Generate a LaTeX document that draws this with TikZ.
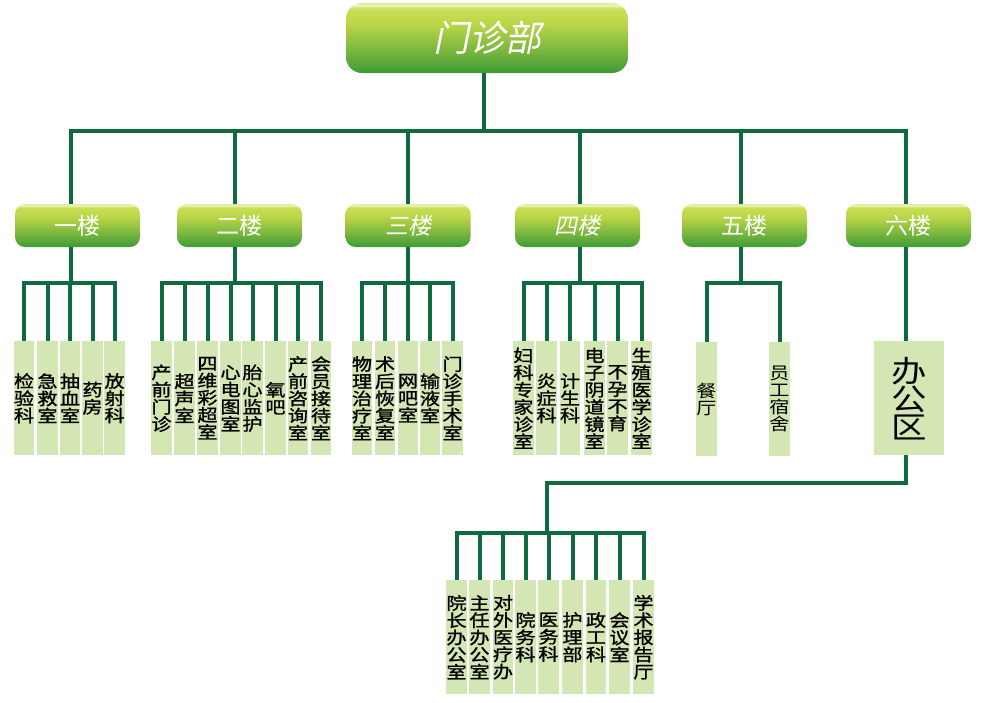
\documentclass[tikz,border=0pt]{standalone}
\usepackage{fontspec}
\newfontfamily\cjk{Noto Sans CJK SC}
\newfontfamily\cjkw[FakeStretch=1.18]{Noto Sans CJK SC}
\newfontfamily\cjkm[FakeStretch=1.18,FakeBold=1.2]{Noto Sans CJK SC}
\newfontfamily\cjksl[FakeSlant=0.2]{Noto Sans CJK SC}
\definecolor{lineg}{HTML}{0E6A3F}
\definecolor{leafg}{HTML}{D3E6B4}
\definecolor{gbot}{HTML}{3E9B38}
\definecolor{gmid}{HTML}{7DB83F}
\definecolor{gtop}{HTML}{BAD548}
\definecolor{gtop2}{HTML}{C9DF55}
\definecolor{ghl}{HTML}{EEF5C8}
\definecolor{ghl2}{HTML}{DDEC9C}
\pgfdeclareverticalshading{btnshade}{100bp}{color(0bp)=(gbot); color(25bp)=(gbot); color(42bp)=(gmid); color(60bp)=(gtop); color(71bp)=(gtop2); color(73.5bp)=(ghl); color(75bp)=(ghl2); color(100bp)=(ghl2)}
\tikzset{
  conn/.style={draw=lineg, line width=4pt, line join=miter},
  leaf/.style={rectangle, fill=leafg, minimum width=19pt, minimum height=114pt,
    inner sep=0pt, anchor=north, align=center, text=black,
    font=\cjkm\fontsize{17}{17.2}\selectfont},
  leafsm/.style={leaf, font=\cjkw\fontsize{17}{17}\selectfont},
  floorbox/.style={rectangle, rounded corners=10pt, shading=btnshade,
    minimum width=125pt, minimum height=43pt, inner sep=0pt, text=white,
    font=\cjk\fontsize{23}{23}\selectfont},
  topbox/.style={rectangle, rounded corners=16pt, shading=btnshade,
    minimum width=282pt, minimum height=70pt, inner sep=0pt, text=white,
    font=\cjksl\fontsize{36}{36}\selectfont},
}
\begin{document}
\begin{tikzpicture}[x=1pt,y=-1pt]
\useasboundingbox (0,0) rectangle (981,702);

% top
\node[topbox] (top) at (487,38) {门诊部};
% floors
\node[floorbox] (f1) at (77.5,225.5) {一楼};
\node[floorbox] (f2) at (239.5,225.5) {二楼};
\node[floorbox, font=\cjksl\fontsize{23}{23}\selectfont] (f3) at (408,225.5) {三楼};
\node[floorbox, font=\cjksl\fontsize{23}{23}\selectfont] (f4) at (577.5,225.5) {四楼};
\node[floorbox] (f5) at (744.5,225.5) {五楼};
\node[floorbox] (f6) at (908.5,225.5) {六楼};

% coordinates
\coordinate (t) at (484,131);
\coordinate (d1) at (71,131);
\coordinate (d2) at (235,131);
\coordinate (d3) at (408,131);
\coordinate (d4) at (580,131);
\coordinate (d5) at (741,131);
\coordinate (d6) at (906,131);
\coordinate (sb) at (0,283);
\coordinate (k1) at (906,483);
\coordinate (k2) at (547,483);
\coordinate (bb) at (0,533);

% floor 1 leaves
\node[leaf] (a1) at (24,341) {检\\验\\科};
\node[leaf] (a2) at (47.5,341) {急\\救\\室};
\node[leaf] (a3) at (70,341) {抽\\血\\室};
\node[leaf] (a4) at (92.5,341) {药\\房};
\node[leaf] (a5) at (114.5,341) {放\\射\\科};
% floor 2 leaves
\node[leaf] (b1) at (161.5,341) {产\\前\\门\\诊};
\node[leaf] (b2) at (184.5,341) {超\\声\\室};
\node[leaf] (b3) at (207.5,341) {四\\维\\彩\\超\\室};
\node[leaf] (b4) at (230.5,341) {心\\电\\图\\室};
\node[leaf] (b5) at (252.5,341) {胎\\心\\监\\护};
\node[leaf] (b6) at (275.5,341) {氧\\吧};
\node[leaf] (b7) at (298,341) {产\\前\\咨\\询\\室};
\node[leaf] (b8) at (321,341) {会\\员\\接\\待\\室};
% floor 3 leaves
\node[leaf] (c1) at (362,341) {物\\理\\治\\疗\\室};
\node[leaf] (c2) at (385,341) {术\\后\\恢\\复\\室};
\node[leaf] (c3) at (408,341) {网\\吧\\室};
\node[leaf] (c4) at (430,341) {输\\液\\室};
\node[leaf] (c5) at (452.5,341) {门\\诊\\手\\术\\室};
% floor 4 leaves
\node[leaf] (e1) at (523.5,341) {妇\\科\\专\\家\\诊\\室};
\node[leaf] (e2) at (546.5,341) {炎\\症\\科};
\node[leaf] (e3) at (570,341) {计\\生\\科};
\node[leaf] (e4) at (594.5,341) {电\\子\\阴\\道\\镜\\室};
\node[leaf] (e5) at (617.5,341) {不\\孕\\不\\育};
\node[leaf] (e6) at (641.5,341) {生\\殖\\医\\学\\诊\\室};
% floor 5 leaves
\node[leafsm] (g1) at (706.5,342) {餐\\厅};
\node[leafsm] (g2) at (779.5,342) {员\\工\\宿\\舍};
% floor 6
\node[leaf, minimum width=70pt, font=\cjkw\fontsize{30}{28}\selectfont] (off) at (909,341) {办\\公\\区};
% bottom leaves
\node[leaf] (h1) at (456.5,580) {院\\长\\办\\公\\室};
\node[leaf] (h2) at (479.5,580) {主\\任\\办\\公\\室};
\node[leaf] (h3) at (503,580) {对\\外\\医\\疗\\办};
\node[leaf] (h4) at (525.5,580) {院\\务\\科};
\node[leaf] (h5) at (548.5,580) {医\\务\\科};
\node[leaf] (h6) at (572.5,580) {护\\理\\部};
\node[leaf] (h7) at (596,580) {政\\工\\科};
\node[leaf] (h8) at (619.5,580) {会\\议\\室};
\node[leaf] (h9) at (643.5,580) {学\\术\\报\\告\\厅};

% main bus
\draw[conn] (top.south -| t) -- (t);
\draw[conn] (d1 |- f1.north) -- (d1) -- (d6) -- (d6 |- f6.north);
\foreach \d/\f in {d2/f2,d3/f3,d4/f4,d5/f5}
  \draw[conn] (\d) -- (\d |- \f.north);

% floor 1
\draw[conn] (f1.south -| d1) -- (d1 |- sb);
\draw[conn] (a1.north) -- (a1.north |- sb) -- (a5.north |- sb) -- (a5.north);
\foreach \n in {a2,a3,a4} \draw[conn] (\n.north |- sb) -- (\n.north);
% floor 2
\draw[conn] (f2.south -| d2) -- (d2 |- sb);
\draw[conn] (b1.north) -- (b1.north |- sb) -- (b8.north |- sb) -- (b8.north);
\foreach \n in {b2,b3,b4,b5,b6,b7} \draw[conn] (\n.north |- sb) -- (\n.north);
% floor 3
\draw[conn] (f3.south -| d3) -- (d3 |- sb);
\draw[conn] (c1.north) -- (c1.north |- sb) -- (c5.north |- sb) -- (c5.north);
\foreach \n in {c2,c3,c4} \draw[conn] (\n.north |- sb) -- (\n.north);
% floor 4
\draw[conn] (f4.south -| d4) -- (d4 |- sb);
\draw[conn] (e1.north) -- (e1.north |- sb) -- (e6.north |- sb) -- (e6.north);
\foreach \n in {e2,e3,e4,e5} \draw[conn] (\n.north |- sb) -- (\n.north);
% floor 5
\draw[conn] (f5.south -| d5) -- (d5 |- sb);
\draw[conn] (g1.north) -- (g1.north |- sb) -- (g2.north |- sb) -- (g2.north);
% floor 6
\draw[conn] (f6.south -| d6) -- (d6 |- off.north);
\draw[conn] (off.south -| k1) -- (k1) -- (k2) -- (k2 |- bb);
\draw[conn] (h1.north) -- (h1.north |- bb) -- (h9.north |- bb) -- (h9.north);
\foreach \n in {h2,h3,h4,h5,h6,h7,h8} \draw[conn] (\n.north |- bb) -- (\n.north);
\end{tikzpicture}
\end{document}
